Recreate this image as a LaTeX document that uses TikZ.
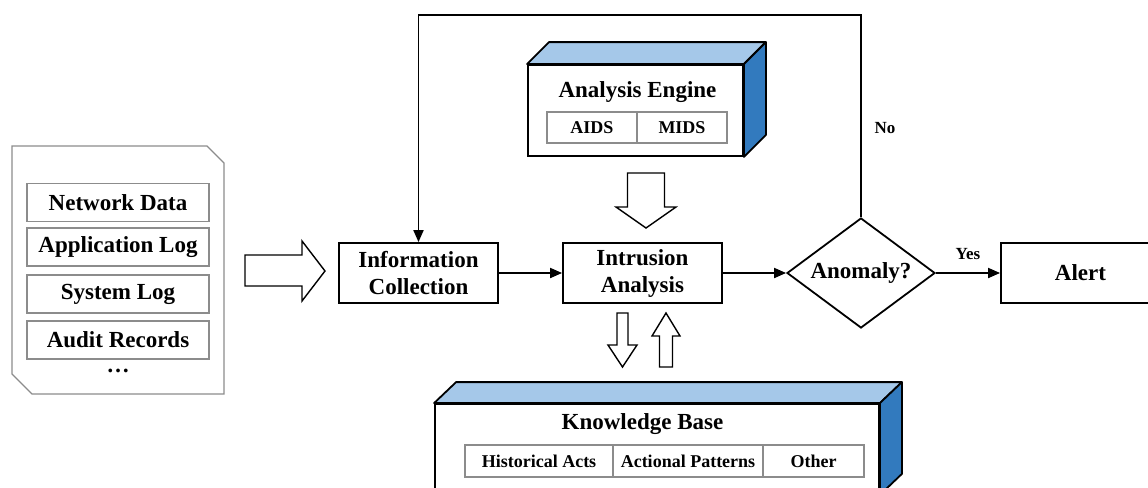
\documentclass[tikz,border=0pt]{standalone}
\usepackage{fontspec}
\setmainfont{Liberation Serif}
\usetikzlibrary{arrows.meta,shapes.geometric}

\definecolor{topface}{RGB}{165,200,233}
\definecolor{sideface}{RGB}{50,122,190}
\definecolor{frame}{RGB}{140,140,140}

\begin{document}
\begin{tikzpicture}[x=0.5pt,y=-0.5pt,
  big/.style={font=\fontsize{11.5}{13.5}\selectfont\bfseries, align=center},
  small/.style={font=\fontsize{9}{10.5}\selectfont\bfseries},
  proc/.style={draw, line width=0.9pt, inner sep=0pt, minimum width=79.5pt, minimum height=30pt, big},
  srcbox/.style={draw=frame, line width=0.6pt, inner sep=0pt, minimum width=91pt, minimum height=19pt, big},
  cell/.style={draw=frame, line width=0.6pt, inner sep=0pt, minimum height=15.5pt, small},
  front/.style={draw, line width=0.9pt, fill=white, inner sep=0pt},
  topf/.style={draw, line width=0.9pt, fill=topface, line join=round},
  sidef/.style={draw, line width=0.9pt, fill=sideface, line join=round},
  blockarrow/.style={draw, line width=0.7pt, fill=white, line join=miter},
  arr/.style={draw, line width=0.9pt, -{Triangle[length=6pt,width=5pt]}},
  lab/.style={font=\fontsize{8.5}{10}\selectfont\bfseries}
]
\useasboundingbox (0,0) rectangle (1148,488);
\clip (0,0) rectangle (1148,488);

% data sources sheet with cut corners
\draw[frame, line width=0.6pt] (12,146) -- (207,146) -- (224,163) -- (224,394)
  -- (32,394) -- (12,374) -- cycle;
\node[srcbox] (net) at (118,202.5) {Network Data};
\node[srcbox] (app) at (118,247) {Application Log};
\node[srcbox] (sys) at (118,294) {System Log};
\node[srcbox] (aud) at (118,340) {Audit Records};
\node[big] (dots) at (118,371) {\textbf{\dots}};

% hollow arrow feeding the collector
\draw[blockarrow] (245,255) -- (302,255) -- (302,241) -- (325,271) -- (302,301)
  -- (302,286) -- (245,286) -- cycle;

% main process chain
\node[proc] (info) at (418.5,273) {Information\\Collection};
\node[proc] (intr) at (642.5,273) {Intrusion\\Analysis};
\node[draw, line width=0.9pt, shape=diamond, inner sep=0pt, aspect=1.345,
      minimum width=74pt, minimum height=55pt, big] (anom) at (861,273) {Anomaly?};
\node[proc] (alert) at (1080.5,273) {Alert};

\draw[arr] (info.east) -- (intr.west);
\draw[arr] (intr.east) -- (anom.west);
\draw[arr] (anom.east) -- node[lab, above=3pt] {Yes} (alert.west);
\coordinate (loop) at (640,15);
\draw[arr] (anom.north) |- (loop) -| (info.north);
\node[lab] (no) at (885,128) {No};

% analysis engine block
\node[front, minimum width=107.5pt, minimum height=45.5pt] (eng) at (635.5,110.5) {};
\draw[topf] (eng.north west) -- ++(22,-22) -- ([shift={(22,-22)}]eng.north east)
  -- (eng.north east) -- cycle;
\draw[sidef] (eng.north east) -- ++(22,-22) -- ([shift={(22,-22)}]eng.south east)
  -- (eng.south east) -- cycle;
\node[big] (engt) at (637.5,92) {Analysis Engine};
\node[cell, minimum width=45pt] (aids) at (592,127.5) {AIDS};
\node[cell, minimum width=45pt] (mids) at (682,127.5) {MIDS};

% hollow arrow from engine down to analysis
\draw[blockarrow] (627.5,173) -- (664.5,173) -- (664.5,207) -- (676,207) -- (646,228)
  -- (616,207) -- (627.5,207) -- cycle;

% hollow arrows between analysis and knowledge base
\draw[blockarrow] (617,313) -- (628,313) -- (628,345) -- (637,345) -- (622.5,367)
  -- (608,345) -- (617,345) -- cycle;
\draw[blockarrow] (659.5,367) -- (672.5,367) -- (672.5,336) -- (680,336) -- (666,313)
  -- (652,336) -- (659.5,336) -- cycle;

% knowledge base block
\node[front, minimum width=222pt, minimum height=45pt] (kb) at (657,449) {};
\draw[topf] (kb.north west) -- ++(22,-21) -- ([shift={(22,-21)}]kb.north east)
  -- (kb.north east) -- cycle;
\draw[sidef] (kb.north east) -- ++(22,-21) -- ([shift={(22,-21)}]kb.south east)
  -- (kb.south east) -- cycle;
\node[big] (kbt) at (642.5,424) {Knowledge Base};
\node[cell, minimum width=74pt, minimum height=16pt] (hist) at (539,461) {Historical Acts};
\node[cell, minimum width=75pt, minimum height=16pt] (act) at (688,461) {Actional Patterns};
\node[cell, minimum width=50.5pt, minimum height=16pt] (oth) at (813.5,461) {Other};
\end{tikzpicture}
\end{document}
